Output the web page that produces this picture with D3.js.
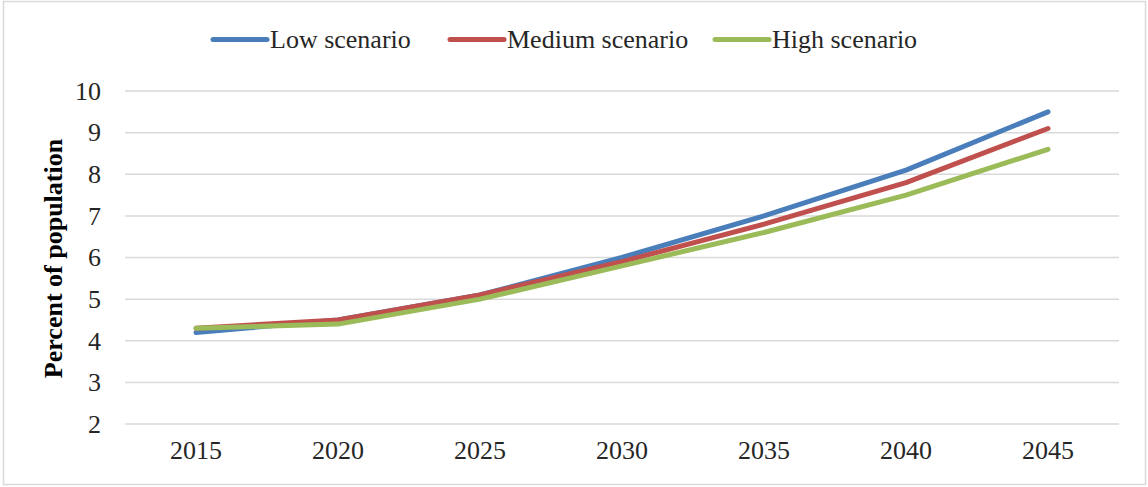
<!DOCTYPE html>
<html>
<head>
<meta charset="utf-8">
<script src="https://cdn.jsdelivr.net/npm/d3@7"></script>
<style>
  html, body { margin: 0; padding: 0; background: #fff; }
  svg { display: block; }
  svg text { font-family: "Liberation Serif", "Times New Roman", serif !important; fill: #262626; }
</style>
</head>
<body>
<div id="chart"></div>
<script>
// Share of population, by projection scenario
const years = ["2015", "2020", "2025", "2030", "2035", "2040", "2045"];
const lowScenario = [4.2, 4.5, 5.1, 6.0, 7.0, 8.1, 9.5];
const mediumScenario = [4.3, 4.5, 5.1, 5.9, 6.8, 7.8, 9.1];
const highScenario = [4.3, 4.4, 5.0, 5.8, 6.6, 7.5, 8.6];
const seriesNames = ["Low scenario", "Medium scenario", "High scenario"];
const yTicks = [2, 3, 4, 5, 6, 7, 8, 9, 10];

const series = [
  { name: seriesNames[0], values: lowScenario, color: "#4a7ebb" },
  { name: seriesNames[1], values: mediumScenario, color: "#c0504d" },
  { name: seriesNames[2], values: highScenario, color: "#9bbb59" }
];

const W = 1148, H = 487;
const plot = { left: 125, right: 1119, top: 91, bottom: 424 };
const FS = 26;

const svg = d3.select("#chart").append("svg")
  .attr("width", W).attr("height", H);

// outer frame
svg.append("rect")
  .attr("x", 3.5).attr("y", 1.5)
  .attr("width", W - 6).attr("height", H - 4)
  .attr("fill", "none").attr("stroke", "#d9d9d9").attr("stroke-width", 1.5);

const x = d3.scaleBand().domain(years).range([plot.left, plot.right]);
const y = d3.scaleLinear().domain([2, 10]).range([plot.bottom, plot.top]);

// horizontal gridlines
svg.append("g").selectAll("line").data(yTicks).join("line")
  .attr("x1", plot.left).attr("x2", plot.right)
  .attr("y1", d => y(d)).attr("y2", d => y(d))
  .attr("stroke", "#d9d9d9").attr("stroke-width", 1.5);

// y axis labels
const yAxis = d3.axisLeft(y).tickValues(yTicks).tickSize(0).tickPadding(0);
const gy = svg.append("g").attr("transform", `translate(${plot.left - 24},0)`).call(yAxis);
gy.select(".domain").remove();
gy.attr("font-size", FS);
gy.selectAll("text").attr("fill", "#262626");

// x axis labels
const xAxis = d3.axisBottom(x).tickSize(0).tickPadding(0);
const gx = svg.append("g").attr("transform", `translate(0,${plot.bottom + 17})`).call(xAxis);
gx.select(".domain").remove();
gx.attr("font-size", FS);
gx.selectAll("text").attr("fill", "#262626");

// y axis title
svg.append("text")
  .attr("transform", `translate(62,${(plot.top + plot.bottom) / 2 + 1}) rotate(-90)`)
  .attr("text-anchor", "middle")
  .attr("font-size", FS).attr("font-weight", "bold")
  .style("fill", "#000")
  .text("Percent of population");

// series lines
const line = d3.line()
  .x((d, i) => x(years[i]) + x.bandwidth() / 2)
  .y(d => y(d));

svg.append("g").selectAll("path").data(series).join("path")
  .attr("d", d => line(d.values))
  .attr("fill", "none")
  .attr("stroke", d => d.color)
  .attr("stroke-width", 5)
  .attr("stroke-linecap", "round")
  .attr("stroke-linejoin", "round");

// legend
const legendX = [213, 450, 715];
const lg = svg.append("g").selectAll("g").data(series).join("g")
  .attr("transform", (d, i) => `translate(${legendX[i]},39.5)`);
lg.append("line")
  .attr("x1", 0).attr("x2", 54)
  .attr("stroke", d => d.color).attr("stroke-width", 5)
  .attr("stroke-linecap", "round");
lg.append("text")
  .attr("x", 57).attr("y", 8.5)
  .attr("font-size", FS)
  .text(d => d.name);
</script>
</body>
</html>
